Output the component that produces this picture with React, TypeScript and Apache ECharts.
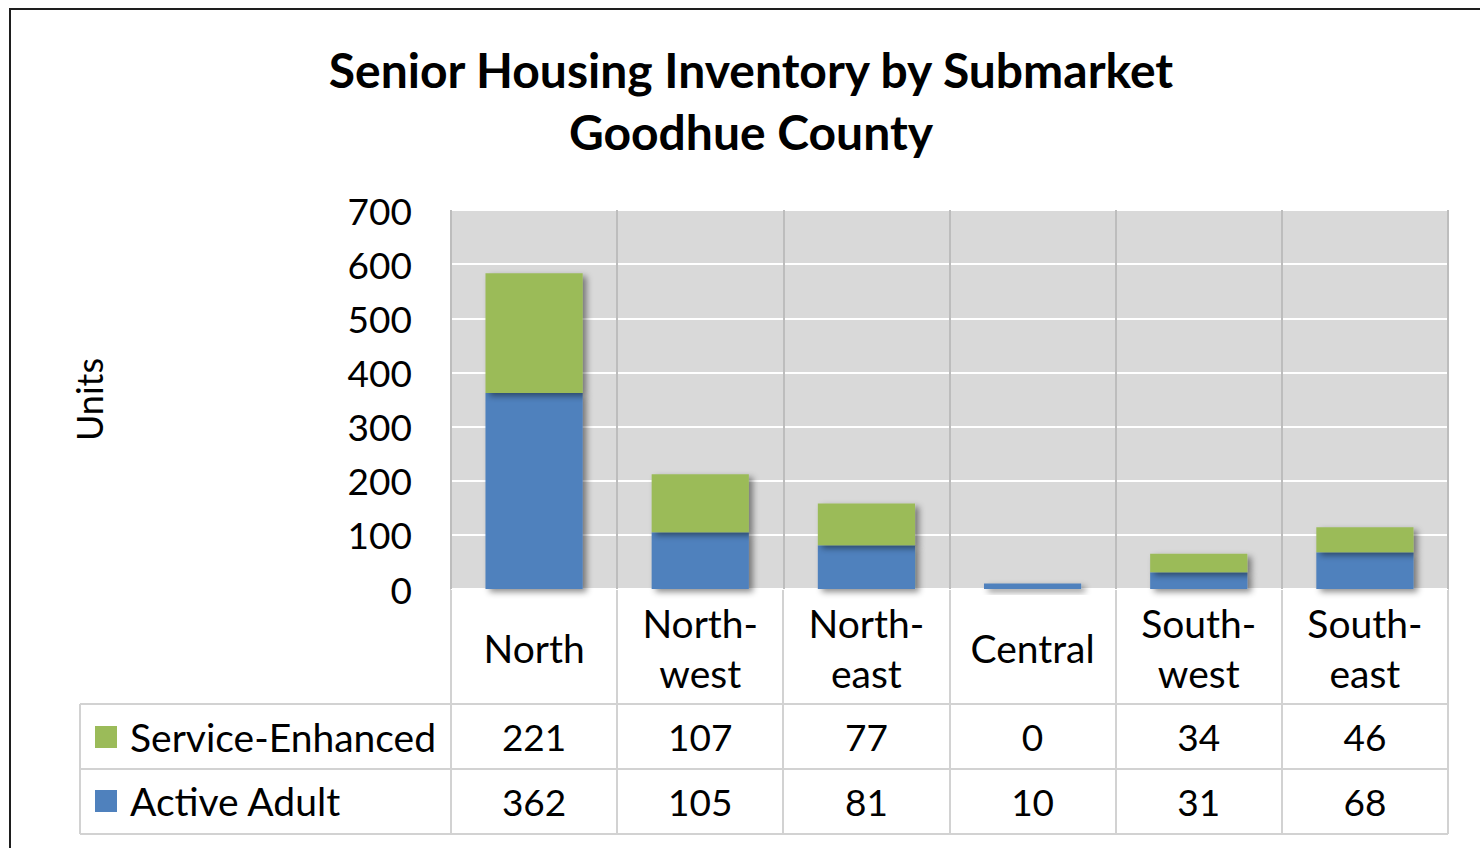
import React, { useEffect, useRef } from "react";
import * as echarts from "echarts";

const titleLines = ["Senior Housing Inventory by Submarket", "Goodhue County"];
const categories = ["North", "North-\nwest", "North-\neast", "Central", "South-\nwest", "South-\neast"];
const serviceEnhanced = [221, 107, 77, 0, 34, 46];
const activeAdult = [362, 105, 81, 10, 31, 68];
const seriesNames = ["Service-Enhanced", "Active Adult"];
const yAxisName = "Units";
const yMin = 0;
const yMax = 700;
const yInterval = 100;

const FONT = 'Lato, "Open Sans", sans-serif';
const BLUE = "#4f81bd";
const GREEN = "#9bbb59";

// layout
const GL = 451;
const GR = 1448;
const GT = 210;
const GB = 589;
const ROW1 = 704;
const ROW2 = 769;
const ROW3 = 834;
const TABLE_LEFT = 80;

export default function App() {
  const ref = useRef<HTMLDivElement>(null);

  useEffect(() => {
    if (!ref.current) return;
    const chart = echarts.init(ref.current, null, { renderer: "svg" });

    const n = categories.length;
    const cw = (GR - GL) / n;
    const lineStyle = { stroke: "#d2d2d2", lineWidth: 2 };
    const tableLines: any[] = [];
    for (let i = 0; i <= n; i++) {
      const x = Math.round(GL + i * cw);
      tableLines.push({ type: "line", shape: { x1: x, y1: GB, x2: x, y2: ROW3 }, style: lineStyle, silent: true });
    }
    [ROW1, ROW2, ROW3].forEach((y) => {
      tableLines.push({ type: "line", shape: { x1: TABLE_LEFT, y1: y, x2: GR, y2: y }, style: lineStyle, silent: true });
    });
    tableLines.push({ type: "line", shape: { x1: TABLE_LEFT, y1: ROW1, x2: TABLE_LEFT, y2: ROW3 }, style: lineStyle, silent: true });

    const valueAxis = (vals: number[], margin: number) => ({
      type: "category",
      gridIndex: 0,
      position: "bottom",
      data: categories,
      axisLine: { show: false },
      axisTick: { show: false },
      splitLine: { show: false },
      axisLabel: {
        interval: 0,
        margin,
        verticalAlign: "middle",
        fontFamily: FONT,
        fontSize: 37,
        color: "#000",
        formatter: (_v: string, idx: number) => String(vals[idx]),
      },
    });

    const shadow = {
      shadowBlur: 6,
      shadowColor: "rgba(0,0,0,0.45)",
      shadowOffsetX: 4,
      shadowOffsetY: 3,
    };

    chart.setOption({
      animation: false,
      backgroundColor: "#ffffff",
      grid: {
        left: GL,
        top: GT,
        width: GR - GL,
        height: GB - GT,
        show: true,
        backgroundColor: "#d9d9d9",
        borderWidth: 0,
      },
      legend: {
        orient: "vertical",
        left: 95,
        top: 717,
        padding: 0,
        itemGap: 24,
        itemWidth: 22,
        itemHeight: 22,
        icon: "rect",
        selectedMode: false,
        data: seriesNames,
        textStyle: {
          fontFamily: FONT,
          fontSize: 39,
          color: "#000",
          lineHeight: 40,
          padding: [0, 0, 0, 8],
        },
      },
      xAxis: [
        {
          type: "category",
          gridIndex: 0,
          position: "bottom",
          data: categories,
          axisLine: { show: false },
          axisTick: { show: false },
          splitLine: { show: true, lineStyle: { color: "#bdbdbd", width: 2 } },
          axisLabel: {
            interval: 0,
            margin: 59,
            verticalAlign: "middle",
            fontFamily: FONT,
            fontSize: 39,
            lineHeight: 50,
            color: "#000",
          },
        },
        valueAxis(serviceEnhanced, ROW1 - GB + (ROW2 - ROW1) / 2),
        valueAxis(activeAdult, ROW2 - GB + (ROW3 - ROW2) / 2),
      ],
      yAxis: {
        type: "value",
        min: yMin,
        max: yMax,
        interval: yInterval,
        name: yAxisName,
        nameLocation: "middle",
        nameRotate: 90,
        nameGap: 344,
        nameTextStyle: { fontFamily: FONT, fontSize: 36, color: "#000" },
        axisLine: { show: false },
        axisTick: { show: false },
        axisLabel: { margin: 39, fontFamily: FONT, fontSize: 37, color: "#000" },
        splitLine: { show: true, lineStyle: { color: "#ffffff", width: 2 } },
      },
      series: [
        {
          name: seriesNames[1],
          type: "bar",
          stack: "total",
          xAxisIndex: 0,
          barWidth: "58.5%",
          data: activeAdult,
          itemStyle: { color: BLUE, ...shadow },
        },
        {
          name: seriesNames[0],
          type: "bar",
          stack: "total",
          xAxisIndex: 0,
          barWidth: "58.5%",
          data: serviceEnhanced,
          itemStyle: { color: GREEN, ...shadow },
        },
      ],
      graphic: [
        {
          type: "line",
          shape: { x1: 10, y1: 9, x2: 10, y2: 848 },
          style: { stroke: "#1e1e1e", lineWidth: 2 },
          silent: true,
        },
        {
          type: "line",
          shape: { x1: 9, y1: 9, x2: 1480, y2: 9 },
          style: { stroke: "#1e1e1e", lineWidth: 2 },
          silent: true,
        },
        ...titleLines.map((t, i) => ({
          type: "text",
          x: 751,
          y: 69 + i * 62,
          silent: true,
          style: {
            text: t,
            fontFamily: FONT,
            fontSize: 48,
            fontWeight: "bold",
            fill: "#000",
            align: "center",
            verticalAlign: "middle",
          },
        })),
        ...tableLines,
      ],
    });

    return () => chart.dispose();
  }, []);

  return (
    <div
      ref={ref}
      style={{ position: "fixed", left: 0, top: 0, width: 1480, height: 848, background: "#fff" }}
    />
  );
}
